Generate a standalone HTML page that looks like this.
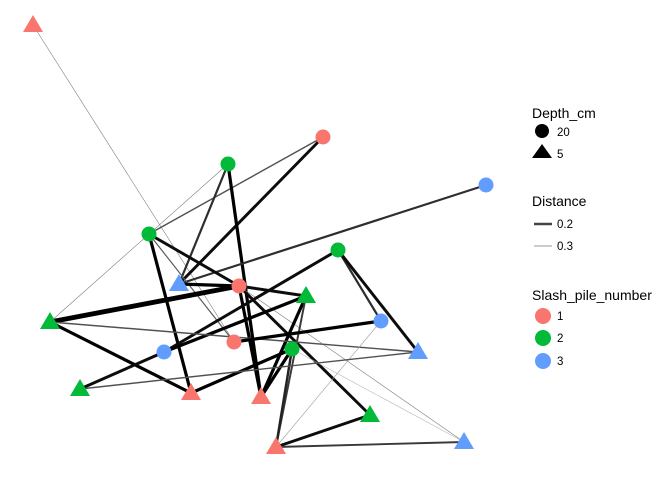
<!DOCTYPE html>
<html><head><meta charset="utf-8"><style>
body{margin:0;background:#fff;font-family:"Liberation Sans",sans-serif}
svg text{font-family:"Liberation Sans",sans-serif}
</style></head><body>
<svg id="chart" width="672" height="480">
<g id="edges"></g>
<g id="nodes"></g>
<g>
<text x="532" y="118" font-size="14" fill="#000">Depth_cm</text>
<circle cx="542" cy="131" r="7" fill="#000"/>
<text x="557" y="136" font-size="11.5">20</text>
<polygon points="542,144 552,158 532,158" fill="#000"/>
<text x="557" y="158" font-size="11.5">5</text>
<text x="532" y="206" font-size="14">Distance</text>
<line x1="534" y1="224" x2="552" y2="224" stroke="#444" stroke-width="2.5"/>
<text x="557" y="228" font-size="11.5">0.2</text>
<line x1="534" y1="246" x2="552" y2="246" stroke="#999" stroke-width="1"/>
<text x="557" y="250" font-size="11.5">0.3</text>
<text x="532" y="300" font-size="14">Slash_pile_number</text>
<circle cx="543" cy="316" r="8" fill="#F8766D"/>
<text x="557" y="320" font-size="11.5">1</text>
<circle cx="543" cy="338" r="8" fill="#00BA38"/>
<text x="557" y="342" font-size="11.5">2</text>
<circle cx="543" cy="361" r="8" fill="#619CFF"/>
<text x="557" y="365" font-size="11.5">3</text>
</g>
</svg>
<script>
// layout coordinates of nodes (graph layout output)
const nodeX=[33,323,228,486,149,338,179,239,306,50,381,234,292,418,164,80,191,261,370,464,276];
const nodeY=[25,137,164,185,234,250,284,286,296,322,321,342,349,352,352,389,393,397,415,442,447];
const nodePile=[1,1,2,3,2,2,3,1,2,2,3,1,2,3,3,2,1,1,2,3,1];
const nodeDepth=[5,20,20,20,20,20,5,20,5,5,20,20,20,5,20,5,5,5,5,5,5];
const edgeFrom=[0,1,1,9,2,2,3,4,4,4,6,7,7,7,7,7,5,5,5,8,8,8,9,9,10,10,12,12,12,12,14,15,20,20];
const edgeTo=[11,4,6,2,6,17,6,7,16,11,7,9,8,17,18,19,14,10,13,14,17,20,16,13,11,20,16,17,20,19,15,13,18,19];
const edgeDist=[0.3,0.26,0.2,0.3,0.23,0.19,0.23,0.2,0.19,0.27,0.19,0.12,0.2,0.19,0.2,0.3,0.2,0.23,0.2,0.19,0.19,0.24,0.19,0.26,0.19,0.33,0.19,0.19,0.22,0.35,0.2,0.26,0.2,0.24];
const colors={1:"#F8766D",2:"#00BA38",3:"#619CFF"};
const NS="http://www.w3.org/2000/svg";
const eg=document.getElementById('edges'),ng=document.getElementById('nodes');
function wScale(d){return Math.max(0.6,Math.min(6,3.2-(d-0.19)*25));}
function gScale(d){const v=Math.round(Math.max(0,Math.min(225,(d-0.19)*1150)));return `rgb(${v},${v},${v})`;}
for(let i=0;i<edgeFrom.length;i++){
  const a=edgeFrom[i],b=edgeTo[i];
  const l=document.createElementNS(NS,'line');
  l.setAttribute('x1',nodeX[a]);l.setAttribute('y1',nodeY[a]);
  l.setAttribute('x2',nodeX[b]);l.setAttribute('y2',nodeY[b]);
  l.setAttribute('stroke',gScale(edgeDist[i]));
  l.setAttribute('stroke-width',wScale(edgeDist[i]));
  
  
  eg.appendChild(l);
}
for(let i=0;i<nodeX.length;i++){
  const x=nodeX[i],y=nodeY[i];let el;
  if(nodeDepth[i]===20){
    el=document.createElementNS(NS,'circle');
    el.setAttribute('cx',x);el.setAttribute('cy',y);el.setAttribute('r',7.5);
  }else{
    el=document.createElementNS(NS,'polygon');
    el.setAttribute('points',`${x},${y-10} ${x+10},${y+7} ${x-10},${y+7}`);
  }
  el.setAttribute('fill',colors[nodePile[i]]);
  
  
  ng.appendChild(el);
}
</script>
</body></html>
